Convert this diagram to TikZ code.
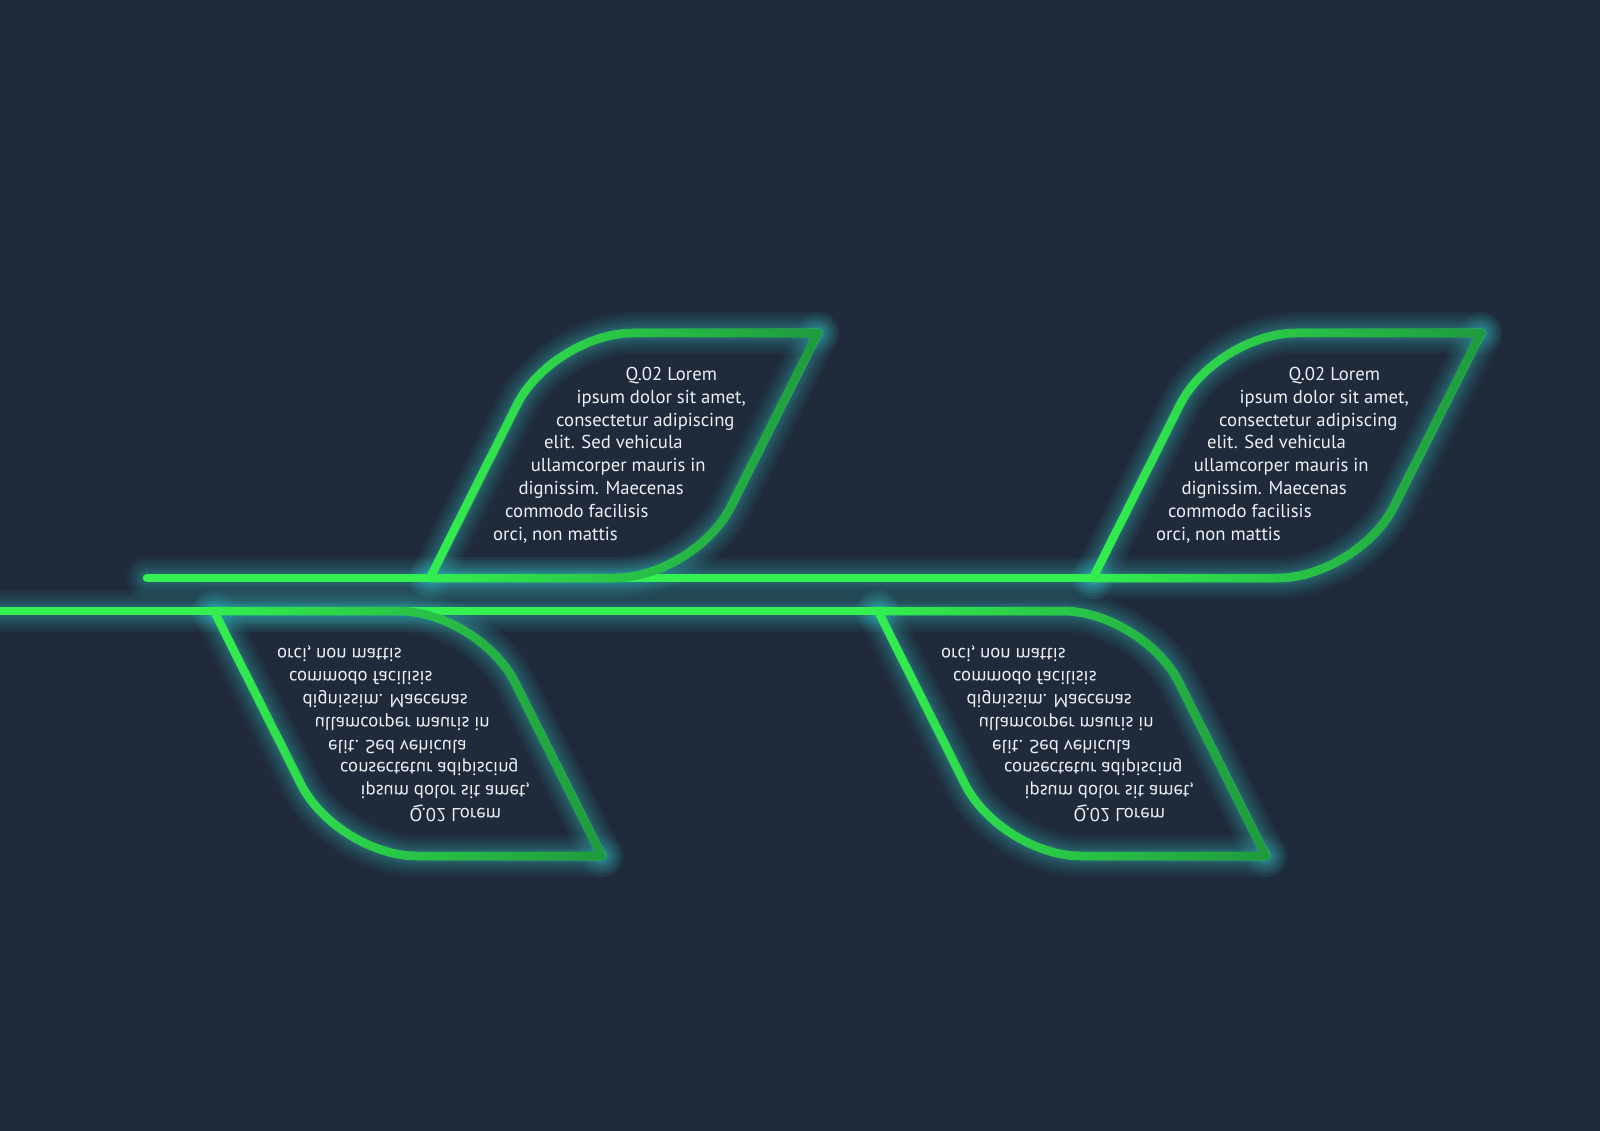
\documentclass[tikz,border=0pt]{standalone}
\usepackage{fontspec}
\setmainfont{PT Sans}
\usetikzlibrary{fadings}

\definecolor{bgnavy}{HTML}{1F2A3B}
\definecolor{neon}{HTML}{34F050}
\definecolor{neondark}{HTML}{1F9A3E}
\definecolor{glowteal}{HTML}{38C4C8}
\definecolor{textgrey}{HTML}{EEF0F4}

\tikzfading[name=fade right, left color=transparent!100,
  middle color=transparent!100, right color=transparent!0]

\pgfdeclarelayer{back}
\pgfdeclarelayer{glow}
\pgfsetlayers{back,glow,main}

\tikzset{
  neonline/.style={line width=8.5pt, color=neon, line cap=round, line join=round},
  neonshade/.style={neonline, color=neondark, path fading=fade right},
  glowline/.style={line width=#1, color=glowteal, opacity=0.055, line cap=round, line join=round},
  leaftext/.style={font=\fontsize{18.7}{22}\selectfont, text=textgrey, anchor=base west,
    inner sep=0pt, transform shape},
}

% one leaf, sharp corner on the spine at the origin
\newcommand{\leaf}[2]{%
  \begin{scope}[#2]
    \begin{pgfonlayer}{glow}
      \foreach \w in {42,36,30,25,21,17,14,12}{
        \draw[glowline=\w pt, rounded corners=80pt] (0,0) -- (123,245) -- (388,245);
        \draw[glowline=\w pt, rounded corners=80pt] (388,245) -- (265,0) -- (0,0);
      }
    \end{pgfonlayer}
    \draw[neonline, rounded corners=80pt] (0,0) -- (123,245) -- (388,245);
    \draw[neonline, rounded corners=80pt] (388,245) -- (265,0) -- (0,0);
    \draw[neonshade, rounded corners=80pt] (0,0) -- (123,245) -- (388,245);
    \draw[neonshade, rounded corners=80pt] (388,245) -- (265,0) -- (0,0);
    \foreach \n/\dx/\t in {1/195.5/{Q.02 Lorem}, 2/146.5/{ipsum dolor sit amet,},
        3/126/{consectetur adipiscing}, 4/114/{elit. Sed vehicula},
        5/100.6/{ullamcorper mauris in}, 6/88.4/{dignissim. Maecenas},
        7/75/{commodo facilisis}, 8/63/{orci, non mattis}}
      \node[leaftext] (#1-\n) at (\dx, 220.3-22.8*\n) {\t};
  \end{scope}}

\begin{document}
\begin{tikzpicture}[x=1pt, y=1pt]
  \begin{pgfonlayer}{back}
    \fill[bgnavy] (0,0) rectangle (1600,-1131);
  \end{pgfonlayer}
  \useasboundingbox (0,0) rectangle (1600,-1131);

  % spines
  \coordinate (uppstart) at (147,-578);
  \coordinate (uppend) at (1093,-578);
  \coordinate (lowstart) at (-40,-611);
  \coordinate (lowend) at (878,-611);
  \begin{pgfonlayer}{glow}
    \foreach \w in {42,36,30,25,21,17,14,12}{
      \draw[glowline=\w pt] (uppstart) -- (uppend);
      \draw[glowline=\w pt] (lowstart) -- (lowend);
    }
  \end{pgfonlayer}
  \draw[neonline] (uppstart) -- (uppend);
  \draw[neonline] (lowstart) -- (lowend);

  % upper leaves
  \leaf{topa}{shift={(430,-578)}}
  \leaf{topb}{shift={(1093,-578)}}

  % lower leaves (mirrored)
  \leaf{bota}{shift={(214,-611)}, yscale=-1}
  \leaf{botb}{shift={(878,-611)}, yscale=-1}
\end{tikzpicture}
\end{document}
